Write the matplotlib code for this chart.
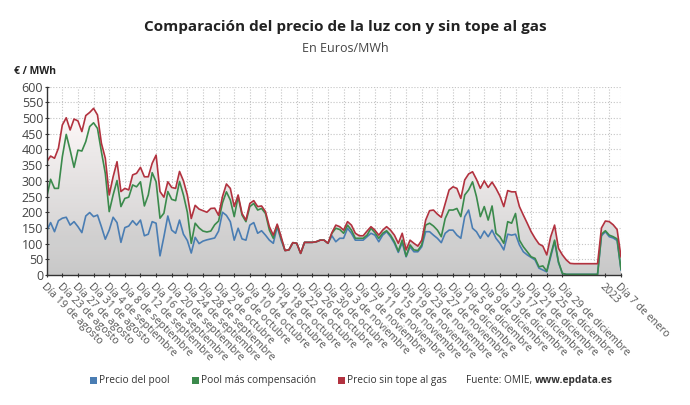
import numpy as np
import matplotlib
matplotlib.use('Agg')
import matplotlib.pyplot as plt
from matplotlib.patches import Polygon, Rectangle

plt.rcParams['font.family'] = ['Open Sans', 'DejaVu Sans']

# ---------------- data ----------------
sin_tope = [361, 379, 372, 404, 478, 501, 462, 497, 491, 457, 508, 518, 531, 510, 420, 372,
            255, 313, 361, 266, 276, 271, 319, 324, 343, 313, 313, 356, 382, 266, 248, 297,
            279, 276,
            330, 300, 255, 180, 222, 210, 205, 200, 212, 213, 190, 250, 290,
            276, 218, 255, 196, 175, 228, 237, 218, 220, 202, 154, 127, 162, 122, 78, 80,
            103, 101, 69, 104, 104, 104, 106, 111, 111, 101,
            135, 159, 154, 143, 170, 159, 133, 125, 125, 140, 154, 143, 127, 143, 154, 143,
            127, 101, 133, 80, 111, 101, 92, 111, 175, 205, 207, 194, 184, 228,
            271, 281, 276, 244, 303, 322, 329, 305, 276, 300, 279, 296, 276, 252, 218, 269,
            265, 265, 218, 191, 165, 138, 117, 99, 92, 64, 122, 159, 85, 64, 48, 37,
            36, 36, 36, 36, 36, 36, 36,
            150, 172, 170, 160, 145, 58]

compensacion = [248, 305, 276, 276, 377, 448, 398, 343, 398, 395, 425, 473, 485, 467, 393, 324,
                202, 255, 301, 218, 244, 248, 287, 281, 297, 220, 255, 326, 297, 181, 197, 266,
                241, 237,
                298, 255, 200, 101, 165, 150, 140, 137, 140, 160, 172, 230, 265,
                239, 186, 250, 191, 170, 218, 228, 207, 212, 196, 143, 117, 159, 117, 78, 80,
                103, 101, 69, 104, 104, 104, 106, 111, 111, 101,
                133, 149, 145, 133, 159, 143, 117, 117, 117, 127, 149, 135, 117, 133, 141, 127,
                106, 76, 111, 60, 96, 80, 78, 96, 159, 165, 156, 143, 122, 180,
                207, 207, 212, 186, 255, 271, 297, 250, 186, 218, 175, 220, 133, 122, 101, 170,
                165, 196, 111, 90, 74, 58, 53, 26, 29, 12, 64, 111, 42, 5, 2, 2,
                2, 2, 2, 2, 2, 2, 2,
                130, 141, 127, 122, 115, 18]

pool = [141, 167, 138, 173, 181, 184, 159, 170, 154, 135, 188, 199, 186, 191, 154, 114,
        143, 184, 167, 104, 151, 156, 173, 159, 175, 125, 130, 170, 165, 61, 122, 188,
        143, 133,
        175, 130, 110, 70, 120, 100, 108, 112, 115, 118, 140, 200, 190,
        170, 111, 149, 115, 111, 159, 167, 133, 141, 127, 111, 101, 154, 111, 78, 80,
        103, 101, 69, 104, 104, 104, 106, 111, 111, 101,
        125, 106, 117, 117, 149, 133, 111, 111, 111, 122, 133, 127, 106, 127, 138, 122,
        101, 72, 103, 58, 90, 74, 74, 90, 138, 138, 127, 117, 103, 133,
        143, 143, 127, 117, 186, 207, 149, 138, 117, 140, 122, 143, 117, 101, 80, 130,
        127, 130, 96, 74, 64, 56, 48, 22, 16, 10, 58, 106, 39, 5, 2, 2,
        2, 2, 2, 2, 2, 2, 2,
        125, 138, 122, 118, 110, 16]

tick_labels = ['Día 19 de agosto', 'Día 23 de agosto', 'Día 27 de agosto', 'Día 31 de agosto',
               'Día 4 de septiembre', 'Día 8 de septiembre', 'Día 12 de septiembre',
               'Día 16 de septiembre', 'Día 20 de septiembre', 'Día 24 de septiembre',
               'Día 28 de septiembre', 'Día 2 de octubre', 'Día 6 de octubre',
               'Día 10 de octubre', 'Día 14 de octubre', 'Día 18 de octubre',
               'Día 22 de octubre', 'Día 26 de octubre', 'Día 30 de octubre',
               'Día 3 de noviembre', 'Día 7 de noviembre', 'Día 11 de noviembre',
               'Día 15 de noviembre', 'Día 19 de noviembre', 'Día 23 de noviembre',
               'Día 27 de noviembre', 'Día 1 de diciembre', 'Día 5 de diciembre',
               'Día 9 de diciembre', 'Día 13 de diciembre', 'Día 17 de diciembre',
               'Día 21 de diciembre', 'Día 25 de diciembre', 'Día 29 de diciembre',
               '2023', 'Día 7 de enero']
tick_pos = list(range(0, 133, 4)) + [143, 147]

series_names = ['Precio del pool', 'Pool más compensación', 'Precio sin tope al gas']
series_colors = ['#4a7db3', '#3b8a4c', '#b2323f']

# ---------------- figure ----------------
W, H = 690, 405
fig = plt.figure(figsize=(W / 100, H / 100), dpi=100)
L, R, T, B = 46.7, 621.0, 86.7, 275.0
ax = fig.add_axes([L / W, 1 - B / H, (R - L) / W, (B - T) / H])

x = np.arange(len(pool))
red = np.array(sin_tope, float)
green = np.array(compensacion, float)
blue = np.array(pool, float)
xmax = x[-1]

# gradient area under the top series
verts = np.column_stack([np.r_[x, x[::-1]], np.r_[red, np.zeros_like(red)]])
poly = Polygon(verts, closed=True, facecolor='none', edgecolor='none')
ax.add_patch(poly)
g = np.linspace(0, 1, 300)[:, None]
top = np.array([250, 245, 245]) / 255
bot = np.array([207, 207, 207]) / 255
frac = np.clip(g * 600 / 480, 0, 1)
img = bot + (top - bot) * frac
img = np.repeat(img[:, None, :], 2, axis=1)
im = ax.imshow(img, extent=[0, xmax, 0, 600], origin='lower', aspect='auto', zorder=1,
               interpolation='bilinear')
im.set_clip_path(poly)
ax.fill_between(x, 0, green, color='#b0b0b0', alpha=0.08, lw=0, zorder=1.2)
ax.fill_between(x, 0, blue, color='#a0a0a0', alpha=0.08, lw=0, zorder=1.3)

for vals, c in zip([blue, green, red], series_colors):
    ax.plot(x, vals, color=c, lw=1.2, zorder=3, solid_joinstyle='round')

ax.set_xlim(0, xmax)
ax.set_ylim(0, 600)

# grid
for yv in range(50, 601, 50):
    ax.axhline(yv, color='#c4c4c4', lw=0.8, ls=(0, (1, 1.6)), zorder=0.5)
for xv in np.arange(0, xmax + 0.5, 4):
    ax.axvline(xv, color='#c4c4c4', lw=0.8, ls=(0, (1, 1.6)), zorder=0.5)
ax.axvline(xmax, color='#c4c4c4', lw=0.8, ls=(0, (1, 1.6)), zorder=0.5)

for s in ['top', 'right']:
    ax.spines[s].set_visible(False)
for s in ['left', 'bottom']:
    ax.spines[s].set_color('#333333')
    ax.spines[s].set_linewidth(1.0)
    ax.spines[s].set_zorder(4)

ax.set_yticks(range(0, 601, 50))
ax.set_yticklabels([str(v) for v in range(0, 601, 50)])
ax.tick_params(axis='y', length=3, width=0.8, color='#333333', labelsize=9,
               labelcolor='#444444', pad=1, direction='inout')
ax.set_xticks(tick_pos)
ax.set_xticklabels(tick_labels, rotation=-45, ha='left', va='top',
                   rotation_mode='anchor', fontsize=7.6, color='#555555')
ax.tick_params(axis='x', length=3, width=0.8, color='#333333', pad=3, direction='inout')

# titles
fig.text(0.5, 1 - 27 / H, 'Comparación del precio de la luz con y sin tope al gas',
         ha='center', va='center', fontsize=11, fontweight='bold', color='#222222')
fig.text(0.5, 1 - 48 / H, 'En Euros/MWh', ha='center', va='center', fontsize=9,
         color='#444444')
fig.text(14 / W, 1 - 71 / H, '€ / MWh', ha='left', va='center', fontsize=7.5,
         fontweight='bold', color='#222222')

# legend
ly = 1 - 380 / H
leg_x = [90, 192, 338]
for px, name, c in zip(leg_x, series_names, series_colors):
    fig.patches.append(Rectangle((px / W, ly - 3.5 / H), 7 / W, 7 / H, transform=fig.transFigure,
                                 facecolor=c, edgecolor='none'))
    fig.text((px + 9) / W, ly, name, ha='left', va='center', fontsize=7.3, color='#333333')
t1 = fig.text(466 / W, ly, 'Fuente: OMIE, ', ha='left', va='center', fontsize=7.3,
              color='#333333')
fig.canvas.draw()
bb = t1.get_window_extent()
fig.text(bb.x1 / W, ly, 'www.epdata.es', ha='left', va='center', fontsize=7.3,
         fontweight='bold', color='#333333')

fig.savefig('out.png', dpi=100)
